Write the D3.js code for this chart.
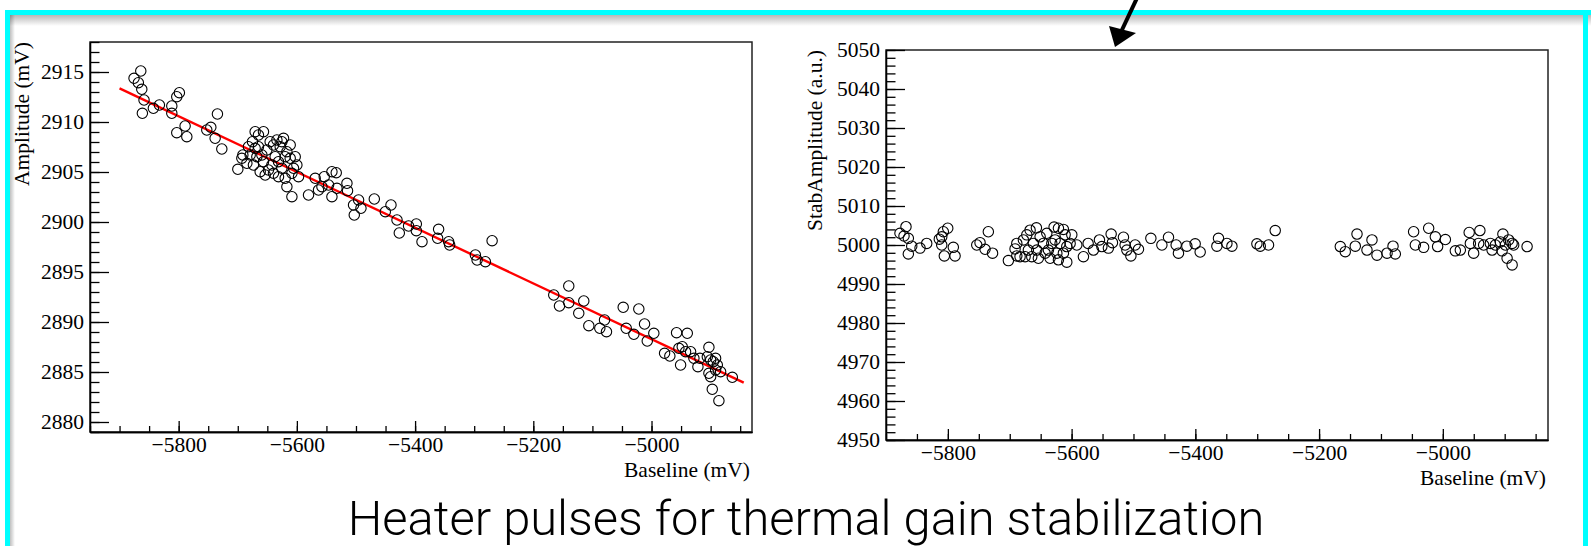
<!DOCTYPE html>
<html>
<head>
<meta charset="utf-8">
<script src="https://d3js.org/d3.v7.min.js"></script>
<style>
  body { margin: 0; background: #fff; }
  svg { display: block; }
  .axis text { font-family: "Liberation Serif", "Times New Roman", serif; font-size: 21.5px; fill: #000; }
  .axis path, .axis line { stroke: #000; stroke-width: 1.3; }
  .title { font-family: "Liberation Serif", "Times New Roman", serif; font-size: 21.5px; fill: #000; }
</style>
</head>
<body>
<div id="chart"></div>
<script>

// left panel: Amplitude vs Baseline (mV)
const baselineA = [
  -5875.5, -5864.1, -5868.2, -5862.4, -5858.6, -5861.4, -5842.8, -5832.6, -5811.6, -5811.6, -5803.2, -5798.8,
  -5803.2, -5789.1, -5786.2, -5752.4, -5745.6, -5734.4, -5738.3, -5727, -5699.9, -5691.4,
  -5693.1, -5681.9, -5675.1, -5670.6, -5656.5, -5670.6, -5665, -5679, -5684.6, -5673.5, -5667.7, -5659.2,
  -5656.5, -5662.1, -5650.8, -5645.2, -5639.6, -5633.8, -5625.4, -5622.6, -5611.3, -5616.9, -5636.7, -5642.3,
  -5631.1, -5625.4, -5639.6, -5631.1, -5619.8, -5608.4, -5602.8, -5600, -5605.7, -5597.2, -5616.9, -5608.4,
  -5653.6, -5648.1, -5665, -5628.2, -5619.8, -5611.3,
  -5580.3, -5569, -5563.4, -5557.6, -5553.7, -5546.4, -5540.7, -5540.7, -5533.4, -5532.2, -5515.3, -5514.3,
  -5504.1, -5495.6, -5502.9, -5491.6, -5469, -5450.4, -5440.8, -5430.6, -5426.7, -5411, -5397.9, -5397.9,
  -5388.3, -5361.9, -5360.2, -5343.2, -5341.5, -5298, -5295.1, -5281.1, -5269.7, -5165.4, -5155.7, -5140,
  -5140, -5123.1, -5114.6, -5106.1, -5087.5, -5079.5, -5076.2, -5047.9, -5042.8, -5029.9, -5021.5, -5011.8,
  -5007.2, -4996.1, -4977.9, -4969, -4957.6, -4939.5, -4953.7, -4948, -4950.8, -4942.4, -4933.9, -4928.3,
  -4921.5, -4918.1, -4902.9, -4905.6, -4900, -4902.9, -4895.5, -4891.6, -4888.7, -4900, -4897.2, -4886,
  -4883.1, -4863.3, -4891.6
];
const amplitude = [
  2914.37, 2915.1, 2913.93, 2913.27, 2912.2, 2910.87, 2911.37, 2911.7, 2911.6, 2910.87, 2912.53, 2912.93,
  2908.93, 2909.6, 2908.53, 2909.2, 2909.47, 2910.8, 2908.37, 2907.3, 2905.27, 2906.7,
  2906.37, 2907.53, 2908.03, 2909.03, 2909.03, 2907.37, 2907.53, 2906.7, 2905.87, 2905.7, 2906.53, 2906.7,
  2906.03, 2905.03, 2907.2, 2908.03, 2907.7, 2908.2, 2908.03, 2908.37, 2907.7, 2907.03, 2906.53, 2905.7,
  2906.03, 2905.37, 2904.87, 2904.53, 2904.37, 2904.87, 2906.53, 2905.7, 2905.37, 2904.53, 2903.53, 2902.53,
  2904.7, 2905.2, 2908.7, 2907.53, 2906.53, 2906.37,
  2902.7, 2904.37, 2903.2, 2903.53, 2904.53, 2903.7, 2905.03, 2902.53, 2904.93, 2903.37, 2903.87, 2903.13,
  2901.7, 2902.2, 2900.7, 2901.37, 2902.3, 2901.03, 2901.7, 2900.2, 2898.9, 2899.6, 2899.8, 2899.13,
  2898.03, 2898.37, 2899.27, 2898.03, 2897.7, 2896.7, 2896.2, 2896.03, 2898.13, 2892.7, 2891.6, 2893.6,
  2891.93, 2890.87, 2892.1, 2889.63, 2889.37, 2890.2, 2889.03, 2891.47, 2889.37, 2888.77, 2891.3, 2889.8,
  2888.1, 2888.87, 2886.87, 2886.6, 2888.93, 2888.87, 2887.37, 2887.53, 2885.7, 2887.03, 2887.03, 2886.37,
  2885.53, 2886.37, 2887.47, 2886.53, 2886.2, 2884.87, 2886.03, 2886.37, 2885.7, 2884.53, 2883.27, 2882.13,
  2885.03, 2884.47, 2885.2
];
// linear fit drawn in red
const fitIntercept = 2748.98;
const fitSlope = -0.027861;
const fitRange = [-5900, -4844];

// right panel: StabAmplitude vs Baseline (mV)
const baselineB = [
  -5877.4, -5867.7, -5870.9, -5863.9, -5863.9, -5858.4, -5845, -5834.2, -5813.8, -5807.3, -5800.2, -5809.9,
  -5809.9, -5805.7, -5791.2, -5788.4, -5753.3, -5748, -5739.9, -5734.6, -5727.8, -5702.2, -5691.4, -5688.6,
  -5688.6, -5683.3, -5677.9, -5672.4, -5667.1, -5656.9, -5669.9, -5675.2, -5664.4, -5661.8, -5656.3, -5650.9,
  -5645.6, -5653.7, -5640.1, -5637.5, -5634.8, -5628.3, -5621.3, -5626.7, -5618.6, -5623.9, -5613.3, -5607.8,
  -5610.5, -5602.4, -5599.7, -5607.8, -5621.3, -5642.8, -5632, -5613.3, -5591.6, -5580.9, -5573.3, -5564.7,
  -5555, -5551.1, -5540.5, -5536.1, -5534, -5516.2, -5513.5, -5510.7, -5504.2, -5497.3, -5491.9, -5471.9,
  -5454.1, -5443.4, -5431, -5427.3, -5413.7, -5400.3, -5392.2, -5362.6, -5365.2, -5349, -5340.9, -5300.5,
  -5295.1, -5281.7, -5270.9, -5165.7, -5157.7, -5141.5, -5138.7, -5122.6, -5114.5, -5106.4, -5090.2, -5080.5,
  -5076.8, -5047.2, -5044.4, -5031, -5022.9, -5012.1, -5008.4, -4995.9, -4979.8, -4971.7, -4957.4, -4955.5,
  -4950.2, -4942.1, -4940.1, -4934, -4923.2, -4920.4, -4915.1, -4907, -4904.2, -4902.9, -4898.9, -4896.1,
  -4893.6, -4888, -4888, -4885.5, -4863.8
];
const stabAmplitude = [
  5003.0, 5004.7, 5002.3, 5001.7, 4997.7, 4999.7, 4999.2, 5000.4, 5001.5, 5003.4, 5004.3, 5002.1,
  5000.0, 4997.2, 4999.4, 4997.2, 5000.0, 5000.6, 4998.9, 5003.4, 4997.9, 4996.0, 4999.0, 4997.2,
  5000.4, 4997.0, 5001.3, 5002.6, 5003.8, 5004.4, 4998.7, 4997.0, 4997.0, 5000.4, 4998.7, 5002.1,
  5000.4, 4996.6, 5003.0, 4998.7, 4996.6, 5004.6, 5004.3, 5001.3, 5000.4, 4997.9, 4997.9, 4995.6,
  5002.6, 5000.4, 5002.6, 4999.6, 4996.2, 4997.9, 5000.4, 5004.0, 5000.0, 4997.0, 5000.4, 4998.7,
  5001.3, 4999.6, 4999.2, 5002.8, 5000.6, 5002.0, 5000.0, 4998.7, 4997.2, 5000.0, 4998.9, 5001.7,
  5000.0, 5002.0, 5000.0, 4997.9, 4999.7, 5000.3, 4998.2, 5001.7, 4999.7, 5000.4, 4999.7, 5000.3,
  4999.7, 5000.0, 5003.7, 4999.6, 4998.3, 4999.7, 5002.8, 4998.7, 5001.3, 4997.4, 4997.9, 4999.7,
  4997.7, 5003.4, 5000.0, 4999.4, 5004.3, 5002.1, 4999.6, 5001.4, 4998.5, 4998.7, 5003.2, 5000.4,
  4997.9, 5000.4, 5003.7, 5000.0, 5000.4, 4998.7, 5000.0, 5000.8, 4998.5, 5002.8, 5000.0, 4996.6,
  5001.3, 5000.4, 4994.9, 5000.0, 4999.6
];

// axis ticks
const ampTicks = [2880, 2885, 2890, 2895, 2900, 2905, 2910, 2915];
const stabTicks = [4950, 4960, 4970, 4980, 4990, 5000, 5010, 5020, 5030, 5040, 5050];
const baselineTicks = [-5800, -5600, -5400, -5200, -5000];

const titleText = "Heater pulses for thermal gain stabilization";

const w = 1591;
const h = 546;

const svg = d3.select("#chart")
  .append("svg")
  .attr("width", w)
  .attr("height", h);

// slide frame (cyan border with soft shadow)
const defs = svg.append("defs");
const gTop = defs.append("linearGradient").attr("id", "shTop").attr("x1", 0).attr("y1", 0).attr("x2", 0).attr("y2", 1);
gTop.append("stop").attr("offset", "0%").attr("stop-color", "#000").attr("stop-opacity", 0.28);
gTop.append("stop").attr("offset", "100%").attr("stop-color", "#000").attr("stop-opacity", 0);
const gLeft = defs.append("linearGradient").attr("id", "shLeft").attr("x1", 0).attr("y1", 0).attr("x2", 1).attr("y2", 0);
gLeft.append("stop").attr("offset", "0%").attr("stop-color", "#000").attr("stop-opacity", 0.25);
gLeft.append("stop").attr("offset", "100%").attr("stop-color", "#000").attr("stop-opacity", 0);

svg.append("rect").attr("x", 10).attr("y", 15).attr("width", w - 10).attr("height", 11).attr("fill", "url(#shTop)");
svg.append("rect").attr("x", 10).attr("y", 15).attr("width", 5).attr("height", h - 15).attr("fill", "url(#shLeft)");
svg.append("rect").attr("x", 5).attr("y", 10).attr("width", w - 5).attr("height", 5).attr("fill", "#00ffff");
svg.append("rect").attr("x", 5).attr("y", 10).attr("width", 5).attr("height", h - 10).attr("fill", "#00ffff");
svg.append("rect").attr("x", 1583).attr("y", 10).attr("width", 5).attr("height", h - 10).attr("fill", "#00ffff");

function panel(opts) {
  const xScale = d3.scaleLinear().domain(opts.xDomain).range([opts.left, opts.right]);
  const yScale = d3.scaleLinear().domain(opts.yDomain).range([opts.bottom, opts.top]);
  const g = svg.append("g");

  g.append("rect")
    .attr("x", opts.left)
    .attr("y", opts.top)
    .attr("width", opts.right - opts.left)
    .attr("height", opts.bottom - opts.top)
    .attr("fill", "#fff")
    .attr("stroke", "#222")
    .attr("stroke-width", 1.5);

  // minor ticks
  g.append("g")
    .attr("class", "axis")
    .attr("transform", "translate(0," + opts.bottom + ")")
    .call(d3.axisBottom(xScale).tickValues(d3.range(opts.xDomain[0], opts.xDomain[1] + 1, 50)).tickSize(-6).tickSizeOuter(0).tickFormat(""));
  g.append("g")
    .attr("class", "axis")
    .attr("transform", "translate(" + opts.left + ",0)")
    .call(d3.axisLeft(yScale).tickValues(d3.range(opts.yDomain[0], opts.yDomain[1] + 0.001, opts.yMinor)).tickSize(-9.5).tickSizeOuter(0).tickFormat(""));

  // major ticks + labels
  g.append("g")
    .attr("class", "axis")
    .attr("transform", "translate(0," + opts.bottom + ")")
    .call(d3.axisBottom(xScale).tickValues(baselineTicks).tickSize(-11).tickSizeOuter(0).tickPadding(5).tickFormat(d3.format("d")));
  g.append("g")
    .attr("class", "axis")
    .attr("transform", "translate(" + opts.left + ",0)")
    .call(d3.axisLeft(yScale).tickValues(opts.yTicks).tickSize(-19).tickSizeOuter(0).tickPadding(6).tickFormat(d3.format("d")));

  g.append("text")
    .attr("class", "title")
    .attr("x", opts.right - 2)
    .attr("y", opts.bottom + 45)
    .attr("text-anchor", "end")
    .text("Baseline (mV)");

  g.append("text")
    .attr("class", "title")
    .attr("transform", "translate(" + opts.yTitleX + "," + opts.top + ") rotate(-90)")
    .attr("text-anchor", "end")
    .text(opts.yTitle);

  return { g: g, xScale: xScale, yScale: yScale };
}

const left = panel({
  left: 90, right: 752, top: 42, bottom: 432,
  xDomain: [-5950, -4830], yDomain: [2879, 2918], yMinor: 1,
  yTicks: ampTicks, yTitle: "Amplitude (mV)", yTitleX: 29
});

left.g.append("line")
  .attr("x1", left.xScale(fitRange[0]))
  .attr("y1", left.yScale(fitIntercept + fitSlope * fitRange[0]))
  .attr("x2", left.xScale(fitRange[1]))
  .attr("y2", left.yScale(fitIntercept + fitSlope * fitRange[1]))
  .attr("stroke", "#ff0000")
  .attr("stroke-width", 2.4);

left.g.append("g")
  .selectAll("circle")
  .data(baselineA.map((b, i) => ({ x: b, y: amplitude[i] })))
  .enter()
  .append("circle")
  .attr("cx", d => left.xScale(d.x))
  .attr("cy", d => left.yScale(d.y))
  .attr("r", 5.2)
  .attr("fill", "none")
  .attr("stroke", "#000")
  .attr("stroke-width", 1.1);

const right = panel({
  left: 886, right: 1548, top: 50, bottom: 440,
  xDomain: [-5900, -4830], yDomain: [4950, 5050], yMinor: 2,
  yTicks: stabTicks, yTitle: "StabAmplitude (a.u.)", yTitleX: 822
});

right.g.append("g")
  .selectAll("circle")
  .data(baselineB.map((b, i) => ({ x: b, y: stabAmplitude[i] })))
  .enter()
  .append("circle")
  .attr("cx", d => right.xScale(d.x))
  .attr("cy", d => right.yScale(d.y))
  .attr("r", 5.2)
  .attr("fill", "none")
  .attr("stroke", "#000")
  .attr("stroke-width", 1.1);

// pointer arrow at the top
svg.append("line")
  .attr("x1", 1137).attr("y1", -2)
  .attr("x2", 1121).attr("y2", 32)
  .attr("stroke", "#000")
  .attr("stroke-width", 4);
svg.append("path")
  .attr("d", "M1115,47 L1109,26 L1136,33 Z")
  .attr("fill", "#000");

// slide caption
const caption = svg.append("text")
  .attr("x", 806)
  .attr("y", 535)
  .attr("text-anchor", "middle")
  .style("font-family", "Roboto, 'Open Sans', sans-serif")
  .style("font-weight", 300)
  .style("font-size", "52px")
  .style("fill", "#000")
  .text(titleText);
const cw = caption.node().getComputedTextLength();
caption.style("font-size", (52 * 917 / cw) + "px");

</script>
</body>
</html>
